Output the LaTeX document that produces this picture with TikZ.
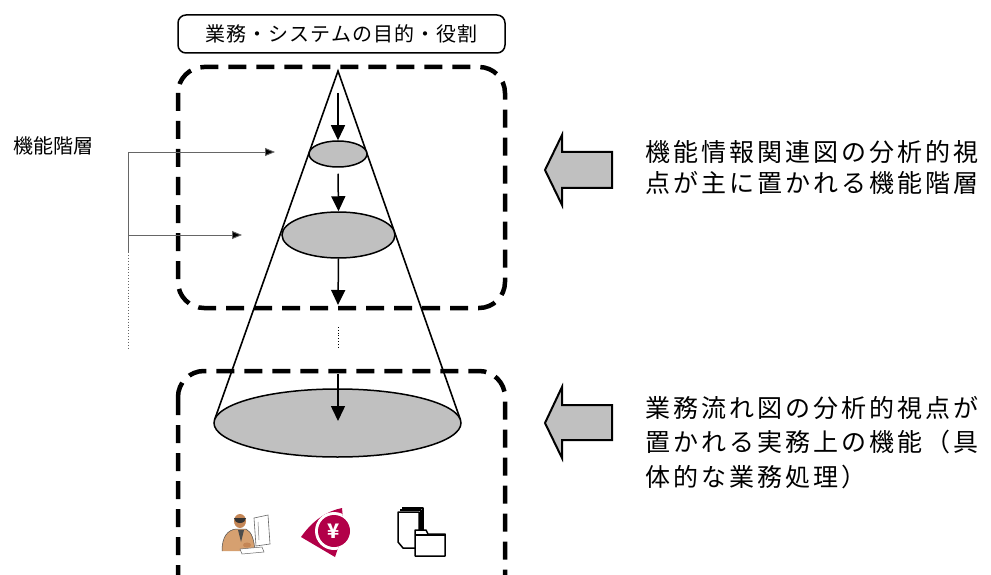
\documentclass[tikz,border=0pt]{standalone}
\usepackage{fontspec}
\setmainfont{Noto Sans CJK JP}
\newfontfamily\jpbig[LetterSpace=12]{Noto Sans CJK JP}
\newfontfamily\jpmid[LetterSpace=5]{Noto Sans CJK JP}
\usetikzlibrary{arrows.meta,shapes.geometric}
\definecolor{levelgray}{RGB}{192,192,192}
\definecolor{yencol}{RGB}{178,0,72}
\definecolor{skin}{RGB}{196,134,86}
\definecolor{suit}{RGB}{214,160,112}
\tikzset{
  zone/.style={line width=4.5pt, dash pattern=on 18pt off 10pt, rounded corners=26pt},
  level/.style={ellipse, draw, line width=1.5pt, fill=levelgray, inner sep=0pt},
  flow/.style={line width=1.5pt, -{Triangle[length=15pt,width=14pt]}},
  guide/.style={draw=black!60, line width=0.9pt},
  guidearrow/.style={guide, -{Triangle[length=10pt,width=8pt,fill=black]}},
  bigarrow/.style={draw, line width=2pt, fill=levelgray, line join=miter},
  note/.style={anchor=base west, inner sep=0pt, font=\jpbig\fontsize{25}{28}\selectfont},
}
\begin{document}
\begin{tikzpicture}[x=1pt,y=-1pt]
\clip (0,0) rectangle (991,575);
\fill[white] (0,0) rectangle (991,575);

% title box
\node[draw, line width=1.5pt, rounded corners=8pt, minimum width=327pt, minimum height=38pt,
      font=\jpmid\fontsize{20}{24}\selectfont] (title) at (341.5,34) {業務・システムの目的・役割};

% dashed zones
\draw[zone] (178,67) rectangle (505,308);
\draw[zone] (178,371) rectangle (505,620);

% cone
\coordinate (apex) at (338,71);
\coordinate (baseL) at (214.6,419.7);
\coordinate (baseR) at (460.4,419.7);
\draw[line width=1.6pt] (baseL) -- (apex) -- (baseR);

% function levels
\node[level, minimum width=58pt, minimum height=26pt] (lv1) at (338,154) {};
\node[level, minimum width=113pt, minimum height=46pt] (lv2) at (338.5,235) {};
\node[level, minimum width=247pt, minimum height=68pt] (lv3) at (337.5,423) {};

% downward flow
\coordinate (f0) at (338,93);
\coordinate (f3) at (338,305);
\coordinate (f4s) at (338,374);
\coordinate (f4e) at (338,421);
\draw[flow] (f0) -- (lv1.north);
\draw[flow] (lv1.south) ++(0,6) coordinate (f1s) -- (lv2.north);
\draw[flow] (lv2.south) -- (f3);
\draw[flow] (f4s) -- (f4e);
\coordinate (d1) at (338,327);
\coordinate (d2) at (338,349);
\draw[line width=0.8pt, dotted] (d1) -- (d2);

% hierarchy bracket on the left
\node[anchor=west, inner sep=0pt, font=\fontsize{20}{24}\selectfont] (hier) at (13,146) {機能階層};
\coordinate (b1) at (128,152);
\coordinate (b2) at (128,235);
\coordinate (b3) at (128,252);
\coordinate (b4) at (128,350);
\coordinate (a1) at (275,152);
\coordinate (a2) at (242,235);
\draw[guide] (b1) -- (b3);
\draw[guide, dotted] (b3) -- (b4);
\draw[guidearrow] (b1) -- (a1);
\draw[guidearrow] (b2) -- (a2);

% pointer arrows
\draw[bigarrow] (545,170) -- (562,135) -- (562,152) -- (612,152) -- (612,188) -- (562,188) -- (562,205) -- cycle;
\draw[bigarrow] (545,423) -- (562,387) -- (562,405) -- (612,405) -- (612,440) -- (562,440) -- (562,458) -- cycle;

% explanations
\node[note] (n1a) at (645,162) {機能情報関連図の分析的視};
\node[note] (n1b) at (645,193) {点が主に置かれる機能階層};
\node[note] (n2a) at (645,417) {業務流れ図の分析的視点が};
\node[note] (n2b) at (645,451) {置かれる実務上の機能（具};
\node[note] (n2c) at (645,486) {体的な業務処理）};

% icon: clerk at a computer
\begin{scope}
  \draw[black!60, fill=white, line width=0.6pt] (254,518) -- (268,515) -- (270,544) -- (256,546) -- cycle;
  \draw[black!50, line width=0.5pt] (258,522) -- (259,540);
  \fill[suit] (222,551) .. controls (222,536) and (228,530) .. (236,529) -- (246,529)
     .. controls (252,532) and (254,540) .. (255,551) -- cycle;
  \draw[black!70, line width=0.5pt] (222,551) .. controls (222,536) and (228,530) .. (236,529) -- (246,529)
     .. controls (252,532) and (254,540) .. (255,551);
  \fill[black!70] (238,530) -- (241,542) -- (244,530) -- cycle;
  \fill[skin] (240,521) ellipse [x radius=6, y radius=7];
  \fill[black!80] (234,518) arc[start angle=180, end angle=0, x radius=6, y radius=5] -- cycle;
  \draw[black!60, fill=white, line width=0.5pt] (240,549) -- (262,547) -- (264,552) -- (242,554) -- cycle;
  \fill[skin] (247,545) ellipse [x radius=4, y radius=2.5];
\end{scope}

% icon: yen mark
\begin{scope}
  \path[fill=yencol] (301,537) .. controls (313,520) and (327,511) .. (342,508)
     -- (344,530) -- (335,557) -- cycle;
  \begin{scope}
    \clip (301,537) .. controls (313,520) and (327,511) .. (342,508)
       -- (344,530) -- (335,557) -- cycle;
    \fill[white] (334,531) circle[radius=19];
  \end{scope}
  \fill[yencol] (334,531) circle[radius=16];
  \node[text=white, inner sep=0pt, font=\bfseries\fontsize{20}{20}\selectfont] (yen) at (334,531) {¥};
\end{scope}

% icon: documents and folder
\begin{scope}[line width=1.5pt, line join=round]
  \draw (402,508) -- (423,508) -- (423,544);
  \draw (400,510) -- (421,510) -- (421,546);
  \draw[fill=white] (398,512) -- (419,512) -- (419,548) -- (403,548) -- (398,542) -- cycle;
  \draw[fill=white] (415,534) -- (415,530) -- (426,530) -- (428,534) -- (445,534) -- (445,556) -- (415,556) -- cycle;
  \draw (415,535) -- (445,535);
\end{scope}
\end{tikzpicture}
\end{document}
